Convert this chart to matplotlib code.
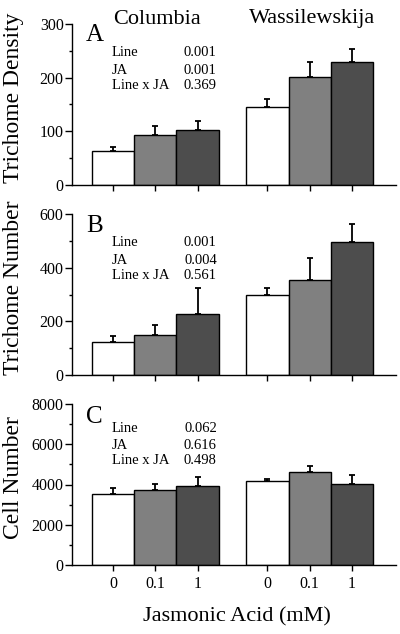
import matplotlib
matplotlib.use("Agg")
import matplotlib.pyplot as plt
from matplotlib.ticker import MultipleLocator
import numpy as np

plt.rcParams['font.family'] = ['Liberation Serif', 'DejaVu Serif']

lines = ["Columbia", "Wassilewskija"]
ja_labels = ["0", "0.1", "1"]

density_mean = [63, 94, 103, 145, 201, 229]
density_err = [8, 16, 17, 15, 29, 25]
tnumber_mean = [124, 148, 226, 298, 355, 494]
tnumber_err = [21, 37, 97, 27, 81, 69]
cell_mean = [3545, 3727, 3909, 4174, 4605, 4041]
cell_err = [280, 280, 480, 85, 315, 415]

ylabels = ["Trichome Density", "Trichome Number", "Cell Number"]
panel_letters = ["A", "B", "C"]
ymax = [300, 600, 8000]
ymajor = [100, 200, 2000]
stat_names = ["Line", "JA", "Line x JA"]
stat_values = [["0.001", "0.001", "0.369"],
               ["0.001", "0.004", "0.561"],
               ["0.062", "0.616", "0.498"]]

means = [density_mean, tnumber_mean, cell_mean]
errs = [density_err, tnumber_err, cell_err]

colors = ["white", "#808080", "#4d4d4d"] * 2
xpos = np.array([0, 1, 2, 3.65, 4.65, 5.65])

fig = plt.figure(figsize=(4.0, 6.34), dpi=100)
W, H = 400, 634
bottoms_px = [185, 375, 565]
ax_h = 161
left_px, right_px = 72, 396

stat_rows = [[0.82, 0.714, 0.621], [0.82, 0.714, 0.621], [0.845, 0.745, 0.652]]
letter_y = [0.93, 0.925, 0.92]

for i in range(3):
    ax = fig.add_axes([left_px / W, 1 - bottoms_px[i] / H, (right_px - left_px) / W, ax_h / H])
    ax.bar(xpos, means[i], width=1.0, color=colors, edgecolor="black", linewidth=1.0, zorder=2)
    ax.errorbar(xpos, means[i], yerr=[np.zeros(6), errs[i]], fmt="none", ecolor="black",
                elinewidth=1.3, capsize=2.2, capthick=1.3, zorder=1)
    ax.set_xlim(-0.97, 6.69)
    ax.set_ylim(0, ymax[i])
    ax.yaxis.set_major_locator(MultipleLocator(ymajor[i]))
    ax.yaxis.set_minor_locator(MultipleLocator(ymajor[i] / 2))
    for s in ["top", "right"]:
        ax.spines[s].set_visible(False)
    for s in ["left", "bottom"]:
        ax.spines[s].set_linewidth(1.0)
    ax.set_xticks(xpos)
    if i == 2:
        ax.set_xticklabels(ja_labels * 2, fontsize=11.5)
    else:
        ax.set_xticklabels([])
    ax.tick_params(axis="x", direction="out", length=4, width=1.0, pad=4)
    ax.tick_params(axis="y", which="major", direction="out", length=5, width=1.0, labelsize=11.5, pad=1)
    ax.tick_params(axis="y", which="minor", direction="out", length=2.5, width=1.0)
    ax.set_ylabel(ylabels[i], fontsize=17)
    ax.yaxis.set_label_coords(-0.147, 0.54)
    ax.text(0.043, letter_y[i], panel_letters[i], transform=ax.transAxes, fontsize=18,
            ha="left", va="center")
    for r in range(3):
        ax.text(0.123, stat_rows[i][r], stat_names[r], transform=ax.transAxes, fontsize=10.5,
                ha="left", va="center")
        ax.text(0.447, stat_rows[i][r], stat_values[i][r], transform=ax.transAxes, fontsize=10.5,
                ha="right", va="center")

fig.text(157 / W, 1 - 19 / H, lines[0], fontsize=16, ha="center", va="center")
fig.text(312 / W, 1 - 19 / H, lines[1], fontsize=16, ha="center", va="center")
fig.text(237 / W, 1 - 617 / H, "Jasmonic Acid (mM)", fontsize=16, ha="center", va="center")

fig.savefig("out.png", dpi=100)
